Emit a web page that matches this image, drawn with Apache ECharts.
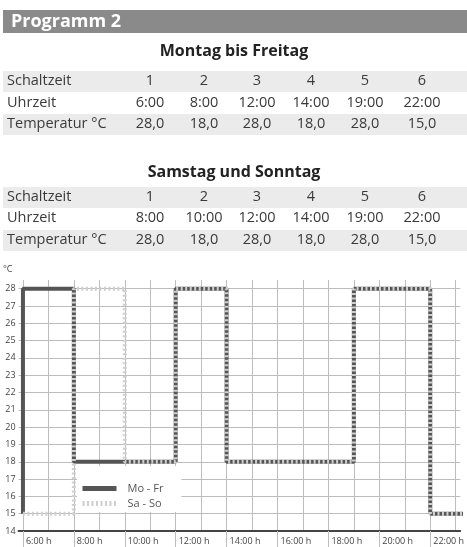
<!DOCTYPE html>
<html>
<head>
<meta charset="utf-8">
<script src="https://cdn.jsdelivr.net/npm/echarts@6/dist/echarts.min.js"></script>
<style>
html,body{margin:0;padding:0;background:#fff;}
#chart{width:467px;height:547px;}
</style>
</head>
<body>
<div id="chart"></div>
<script>
// ---- data ----
const headerTitle = 'Programm 2';
const schaltzeit = [1, 2, 3, 4, 5, 6];
const moFrTitle = 'Montag bis Freitag';
const moFrUhrzeit = ['6:00', '8:00', '12:00', '14:00', '19:00', '22:00'];
const moFrTemp = [28.0, 18.0, 28.0, 18.0, 28.0, 15.0];
const saSoTitle = 'Samstag und Sonntag';
const saSoUhrzeit = ['8:00', '10:00', '12:00', '14:00', '19:00', '22:00'];
const saSoTemp = [28.0, 18.0, 28.0, 18.0, 28.0, 15.0];
const rowLabels = ['Schaltzeit', 'Uhrzeit', 'Temperatur °C'];
const seriesNames = ['Mo - Fr', 'Sa - So'];
const yTickValues = [14, 15, 16, 17, 18, 19, 20, 21, 22, 23, 24, 25, 26, 27, 28];
const hourLines = [6, 7, 8, 9, 10, 11, 12, 13, 14, 15, 16, 17, 18, 19, 20, 21, 22, 23];
const hourLabels = [6, 8, 10, 12, 14, 16, 18, 20, 22];

// ---- helpers ----
const X_MIN = 5.826, X_MAX = 23.18, Y_MIN = 14, Y_MAX = 28.5;
const toHour = s => parseInt(s.split(':')[0], 10) + parseInt(s.split(':')[1], 10) / 60;
const fmtTemp = v => v.toFixed(1).replace('.', ',');

function stepData(times, temps) {
  const hours = times.map(toHour);
  const last = temps[temps.length - 1];
  const pts = [[hours[0] < 7 ? hours[0] : 6, last]];
  hours.forEach((h, i) => pts.push([h, temps[i]]));
  pts.push([24, last]);
  return pts;
}

const FONT = '"Open Sans", "Noto Sans", sans-serif';
const colX = [150, 204, 257, 311, 365, 422];

function tableGraphics(title, titleY, rowY, bands, uhrzeit, temps) {
  const els = [];
  bands.forEach(b => els.push({
    type: 'rect', shape: { x: 3, y: b[0], width: 464, height: b[1] - b[0] },
    style: { fill: '#ebebeb' }, silent: true
  }));
  els.push({
    type: 'text', x: 234, y: titleY,
    style: { text: title, font: 'bold 16px ' + FONT, fill: '#222', align: 'center', verticalAlign: 'middle' }
  });
  const rows = [schaltzeit.map(String), uhrzeit, temps.map(fmtTemp)];
  rows.forEach((vals, r) => {
    els.push({
      type: 'text', x: 7, y: rowY[r],
      style: { text: rowLabels[r], font: '14.5px ' + FONT, fill: '#3a3a3a', align: 'left', verticalAlign: 'middle' }
    });
    vals.forEach((v, c) => els.push({
      type: 'text', x: colX[c], y: rowY[r],
      style: { text: v, font: '14.5px ' + FONT, fill: '#3a3a3a', align: 'center', verticalAlign: 'middle' }
    }));
  });
  return els;
}

const graphics = [
  { type: 'rect', shape: { x: 3, y: 10, width: 464, height: 23 }, style: { fill: '#8a8a8a' }, silent: true },
  { type: 'text', x: 11, y: 22, style: { text: headerTitle, font: 'bold 18px ' + FONT, fill: '#fff', align: 'left', verticalAlign: 'middle' } }
].concat(
  tableGraphics(moFrTitle, 51, [81, 103, 124], [[71, 92], [114, 135]], moFrUhrzeit, moFrTemp),
  tableGraphics(saSoTitle, 172, [197, 218, 240], [[187, 208], [230, 251]], saSoUhrzeit, saSoTemp)
);

const chart = echarts.init(document.getElementById('chart'), null, { renderer: 'canvas' });
chart.setOption({
  animation: false,
  backgroundColor: '#fff',
  textStyle: { fontFamily: FONT },
  graphic: graphics,
  grid: { left: 18, right: 0, top: 280, bottom: 16 },
  legend: {
    data: seriesNames,
    orient: 'vertical',
    left: 77, top: 466,
    itemWidth: 34, itemHeight: 12, itemGap: 4,
    padding: [17, 18, 3, 3],
    backgroundColor: '#fff',
    itemStyle: { opacity: 0 },
    lineStyle: { width: 5 },
    textStyle: { fontSize: 11, color: '#555', padding: [0, 0, 0, 6] }
  },
  xAxis: [
    {
      type: 'value', min: X_MIN, max: X_MAX,
      axisLine: { show: true, lineStyle: { color: '#444', width: 2 } },
      axisTick: { show: false, customValues: hourLines },
      axisLabel: { show: false },
      splitLine: { show: true, lineStyle: { color: '#bdbdbd', width: 1 } }
    },
    {
      type: 'value', min: X_MIN, max: X_MAX, position: 'bottom',
      axisLine: { show: false },
      axisTick: { show: true, customValues: hourLabels, length: 16, lineStyle: { color: '#bdbdbd' } },
      axisLabel: {
        customValues: hourLabels, formatter: v => v + ':00 h',
        align: 'left', padding: [0, 0, 0, 3], margin: 6, fontSize: 9, color: '#444'
      },
      splitLine: { show: false }
    }
  ],
  yAxis: {
    type: 'value', min: Y_MIN, max: Y_MAX,
    name: '°C', nameLocation: 'end', nameGap: 6,
    nameTextStyle: { fontSize: 9, color: '#444', align: 'right', padding: [0, 6, 0, 0] },
    axisLine: { show: false },
    axisTick: { show: false, customValues: yTickValues },
    axisLabel: { customValues: yTickValues, fontSize: 9, margin: 3, color: '#444' },
    splitLine: { show: true, lineStyle: { color: '#bdbdbd', width: 1 } }
  },
  series: [
    {
      name: seriesNames[0], type: 'line', step: 'end', xAxisIndex: 0,
      data: stepData(moFrUhrzeit, moFrTemp),
      symbol: 'none', lineStyle: { color: '#555', width: 4 }, itemStyle: { color: '#555' }, z: 3
    },
    {
      name: seriesNames[1], type: 'line', step: 'end', xAxisIndex: 0,
      data: stepData(saSoUhrzeit, saSoTemp),
      symbol: 'none', lineStyle: { color: '#cfcfcf', width: 4, type: [2, 2.5] }, itemStyle: { color: '#cfcfcf' }, z: 4
    }
  ]
});
</script>
</body>
</html>
